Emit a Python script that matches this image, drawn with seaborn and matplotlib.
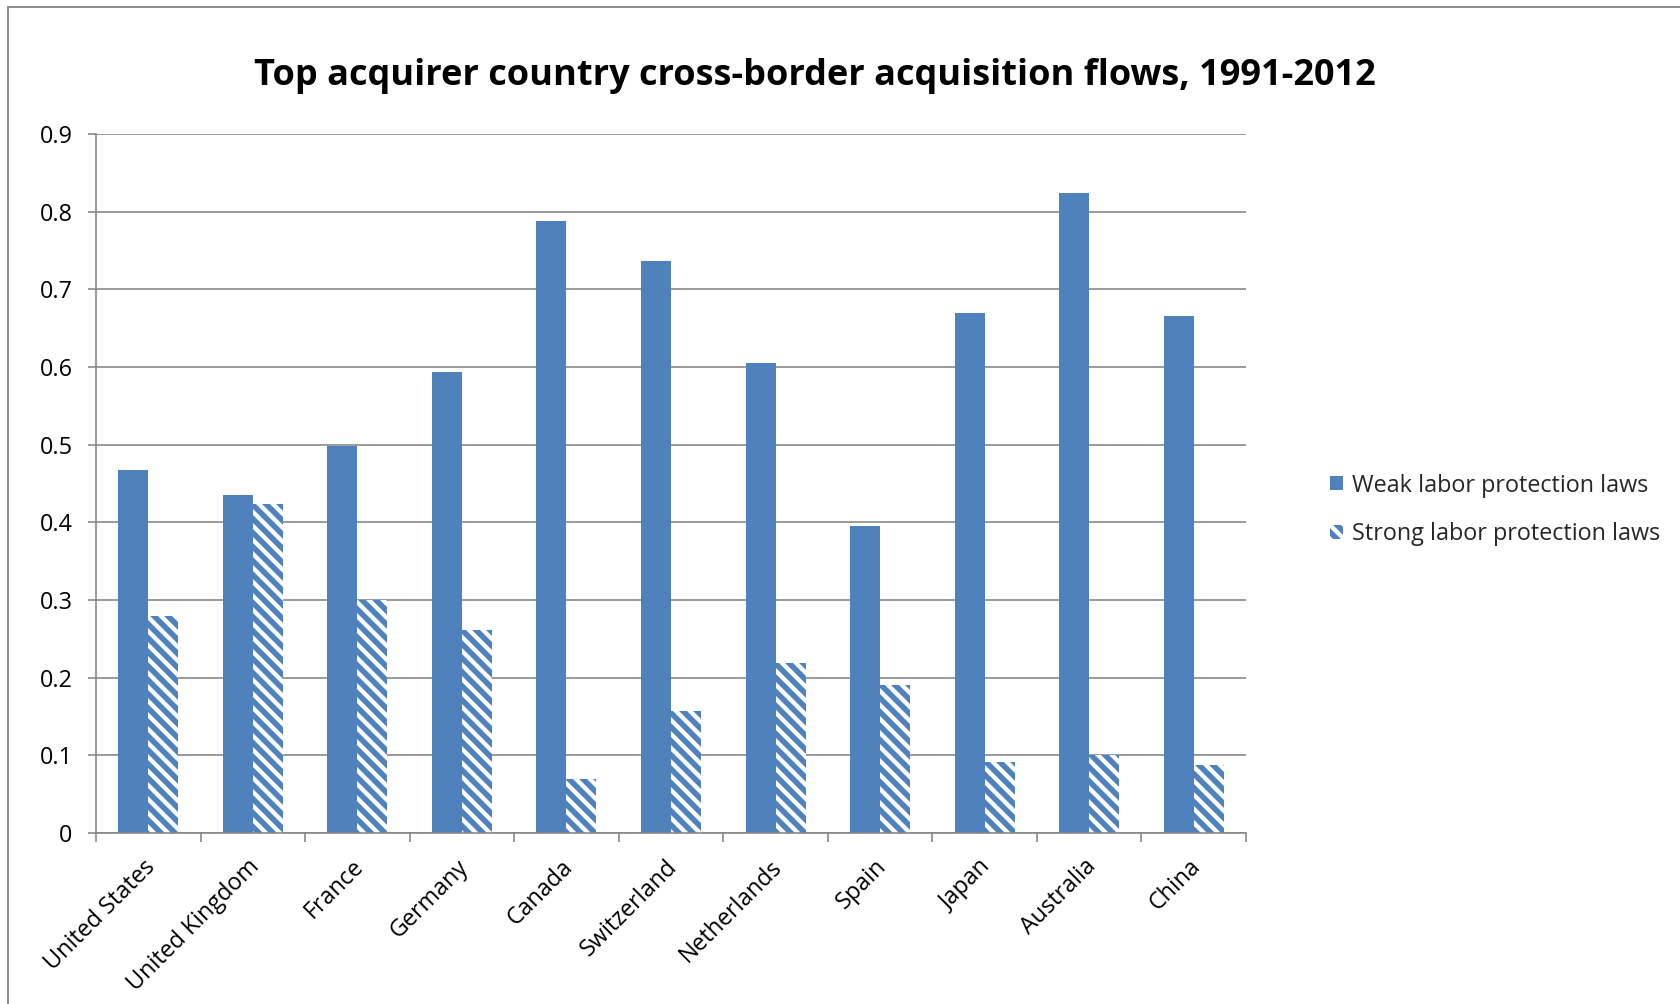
import matplotlib
matplotlib.use("Agg")
import matplotlib.pyplot as plt
from matplotlib.patches import Patch
from matplotlib.lines import Line2D
from matplotlib.transforms import ScaledTranslation
import seaborn as sns
import pandas as pd
import numpy as np

# Chart data
countries = ["United States", "United Kingdom", "France", "Germany", "Canada",
             "Switzerland", "Netherlands", "Spain", "Japan", "Australia", "China"]
weak = [0.467, 0.435, 0.498, 0.593, 0.788, 0.736, 0.605, 0.395, 0.670, 0.824, 0.666]
strong = [0.280, 0.423, 0.300, 0.262, 0.070, 0.157, 0.219, 0.190, 0.091, 0.101, 0.087]
series_names = ["Weak labor protection laws", "Strong labor protection laws"]
y_ticks = [0, 0.1, 0.2, 0.3, 0.4, 0.5, 0.6, 0.7, 0.8, 0.9]
title = "Top acquirer country cross-border acquisition flows, 1991-2012"

BLUE = "#4F81BD"
GRID = "#868686"
LABEL_SIZE = 20

sns.set_theme(style="white")
plt.rcParams["font.family"] = ["Open Sans", "DejaVu Sans"]
plt.rcParams["hatch.linewidth"] = 4.8

DPI = 84
W, H = 1680, 1004
fig = plt.figure(figsize=(W / DPI, (H + 0.01) / DPI), dpi=DPI)
fig.patch.set_facecolor("white")

# plot area in pixel coordinates
left, right, top, bottom = 96, 1246, 134, 833
ax = fig.add_axes([left / W, 1 - bottom / H, (right - left) / W, (bottom - top) / H])

df = pd.DataFrame({
    "country": countries * 2,
    "value": weak + strong,
    "series": [series_names[0]] * len(countries) + [series_names[1]] * len(countries),
})

sns.barplot(data=df, x="country", y="value", hue="series", order=countries,
            hue_order=series_names, palette=[BLUE, BLUE], saturation=1,
            width=0.574, errorbar=None, legend=False, ax=ax)

for bar in ax.containers[0]:
    bar.set_linewidth(0)
for bar in ax.containers[1]:
    bar.set_facecolor("white")
    bar.set_edgecolor(BLUE)
    bar.set_hatch("\\\\")
    bar.set_linewidth(0)

ax.set_xlim(-0.5, len(countries) - 0.5)
ax.set_ylim(0, 0.9)
ax.set_yticks(y_ticks)
ax.set_yticklabels([f"{v:g}" for v in y_ticks])
ax.set_xlabel("")
ax.set_ylabel("")

ax.set_axisbelow(True)
ax.yaxis.grid(True, color=GRID, linewidth=1.4)
ax.xaxis.grid(False)

for side in ["top", "right"]:
    ax.spines[side].set_visible(False)
for side in ["left", "bottom"]:
    ax.spines[side].set_color(GRID)
    ax.spines[side].set_linewidth(1.4)

# category boundary ticks on x, labels centred under each group
ax.set_xticks(np.arange(-0.5, len(countries), 1.0), minor=True)
ax.tick_params(axis="x", which="minor", length=8, width=1.4, color=GRID, bottom=True)
ax.tick_params(axis="x", which="major", length=0, pad=26, labelsize=LABEL_SIZE,
               labelcolor="black")
ax.tick_params(axis="y", which="major", length=7, width=1.4, color=GRID, left=True,
               pad=13, labelsize=LABEL_SIZE, labelcolor="black")
nudge = ScaledTranslation(3 / DPI, 0, fig.dpi_scale_trans)
for lbl in ax.get_xticklabels():
    lbl.set_rotation(45)
    lbl.set_ha("right")
    lbl.set_va("center")
    lbl.set_rotation_mode("anchor")
    lbl.set_transform(lbl.get_transform() + nudge)

fig.text(815 / W, 1 - 76 / H, title, ha="center", va="center",
         fontsize=31, fontweight="bold", color="black")

handles = [
    Patch(facecolor=BLUE, edgecolor=BLUE, linewidth=0),
    Patch(facecolor="white", edgecolor=BLUE, hatch="\\\\", linewidth=0),
]
fig.legend(handles, series_names, loc="center left",
           bbox_to_anchor=(1321 / W, 1 - 510 / H), frameon=False,
           fontsize=LABEL_SIZE, handlelength=0.55, handleheight=0.55,
           handletextpad=0.4, labelspacing=1.06, borderaxespad=0)

# chart frame (top and left edges visible)
fig.add_artist(Line2D([8 / W, 1], [1 - 7 / H, 1 - 7 / H], transform=fig.transFigure,
                      color=GRID, linewidth=1.6))
fig.add_artist(Line2D([8 / W, 8 / W], [0, 1 - 7 / H], transform=fig.transFigure,
                      color=GRID, linewidth=1.6))

fig.savefig("out.png", dpi=DPI, facecolor="white")
